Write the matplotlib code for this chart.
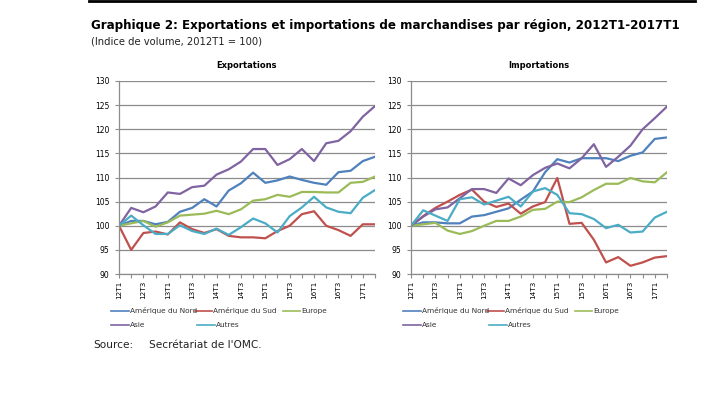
import numpy as np
import matplotlib.pyplot as plt
from matplotlib.lines import Line2D

quarters = ['12T1', '12T2', '12T3', '12T4', '13T1', '13T2', '13T3', '13T4',
            '14T1', '14T2', '14T3', '14T4', '15T1', '15T2', '15T3', '15T4',
            '16T1', '16T2', '16T3', '16T4', '17T1', '17T2']

regions = ['Amérique du Nord', 'Amérique du Sud', 'Europe', 'Asie', 'Autres']
colors = ['#4F81BD', '#C0504D', '#9BBB59', '#8064A2', '#4BACC6']

# Exportations
exp_nord = [100, 101.0, 101.0, 100.3, 100.8, 102.9, 103.7, 105.5, 104.0, 107.3, 108.8,
            111.0, 108.9, 109.4, 110.2, 109.5, 108.9, 108.5, 111.1, 111.4, 113.4, 114.3]
exp_sud = [100, 95.0, 98.5, 98.8, 98.2, 100.7, 99.3, 98.5, 99.3, 97.9, 97.6,
           97.6, 97.4, 98.9, 100.0, 102.4, 103.0, 100.0, 99.1, 97.9, 100.3, 100.3]
exp_europe = [100, 100.5, 101.0, 99.8, 100.7, 102.1, 102.3, 102.5, 103.1, 102.4, 103.4,
              105.2, 105.5, 106.4, 106.0, 107.0, 107.0, 106.9, 106.9, 108.9, 109.1, 110.2]
exp_asie = [100, 103.7, 102.8, 104.0, 106.9, 106.6, 108.0, 108.3, 110.6, 111.7, 113.3,
            115.9, 115.9, 112.6, 113.8, 115.9, 113.4, 117.1, 117.6, 119.6, 122.6, 124.8]
exp_autres = [100, 102.1, 100.1, 98.3, 98.3, 100.1, 98.9, 98.3, 99.4, 98.1, 99.7,
              101.5, 100.5, 98.6, 102.0, 103.8, 106.0, 103.8, 102.9, 102.6, 105.8, 107.4]

# Importations
imp_nord = [100, 100.7, 100.7, 100.5, 100.5, 101.9, 102.2, 102.9, 103.6, 105.4, 107.1,
            111.1, 113.8, 113.1, 114.0, 114.0, 114.0, 113.4, 114.5, 115.2, 118.0, 118.3]
imp_sud = [100, 102.0, 103.7, 105.0, 106.4, 107.5, 105.0, 103.9, 104.6, 102.5, 104.0,
           104.9, 109.9, 100.4, 100.6, 97.1, 92.4, 93.5, 91.7, 92.4, 93.4, 93.7]
imp_europe = [100, 100.3, 100.6, 99.0, 98.3, 98.9, 100.0, 101.0, 101.0, 101.9, 103.3,
              103.5, 105.0, 104.9, 105.9, 107.4, 108.7, 108.7, 109.9, 109.2, 109.0, 111.1]
imp_asie = [100, 101.9, 103.4, 103.8, 105.7, 107.6, 107.6, 106.8, 109.8, 108.4, 110.5,
            112.0, 112.9, 111.9, 114.0, 116.9, 112.2, 114.3, 116.6, 120.0, 122.3, 124.7]
imp_autres = [100, 103.2, 102.1, 101.0, 105.5, 105.9, 104.4, 105.2, 106.0, 104.0, 107.1,
              107.8, 106.4, 102.6, 102.4, 101.4, 99.5, 100.2, 98.6, 98.8, 101.7, 102.9]

exports = [exp_nord, exp_sud, exp_europe, exp_asie, exp_autres]
imports = [imp_nord, imp_sud, imp_europe, imp_asie, imp_autres]

W, H = 709, 407
fig = plt.figure(figsize=(W / 100, H / 100), dpi=100)
plt.rcParams['font.family'] = 'DejaVu Sans'

grid_col = '#8c8c8c'


def panel(left_px, title, series):
    ax = fig.add_axes([left_px / W, 1 - 274 / H, 256 / W, 193 / H])
    x = np.arange(len(quarters))
    for vals, c in zip(series, colors):
        ax.plot(x, vals, color=c, lw=1.6, solid_joinstyle='round')
    ax.set_xlim(0, len(quarters) - 1)
    ax.set_ylim(90, 130)
    ax.set_yticks(np.arange(90, 131, 5))
    ax.set_xticks(x)
    ax.set_xticklabels([q if i % 2 == 0 else '' for i, q in enumerate(quarters)],
                       rotation=90, fontsize=5.2)
    ax.tick_params(axis='y', labelsize=5.5, length=3, color=grid_col, width=0.8, pad=4)
    ax.tick_params(axis='x', length=3, color=grid_col, width=0.8, pad=2)
    ax.grid(axis='y', color=grid_col, lw=0.9)
    ax.set_axisbelow(True)
    for s in ['top', 'right']:
        ax.spines[s].set_visible(False)
    for s in ['left', 'bottom']:
        ax.spines[s].set_color(grid_col)
        ax.spines[s].set_linewidth(0.9)
    ax.set_title(title, fontsize=6, fontweight='bold', pad=9)

    # legend drawn in two rows below the axis
    def entry(dx0, dx1, y, label, c):
        fig.add_artist(Line2D([(left_px + dx0) / W, (left_px + dx1) / W],
                              [1 - y / H, 1 - y / H], color=c, lw=1.2))
        fig.text((left_px + dx1 + 1) / W, 1 - y / H, label, fontsize=5.3,
                 va='center', ha='left', color='#333333')
    entry(-8, 10, 311, regions[0], colors[0])
    entry(76, 93, 311, regions[1], colors[1])
    entry(164, 181, 311, regions[2], colors[2])
    entry(-8, 10, 325, regions[3], colors[3])
    entry(78, 96, 325, regions[4], colors[4])
    return ax


panel(119, 'Exportations', exports)
panel(411, 'Importations', imports)

fig.add_artist(Line2D([89 / W, 695 / W], [1 - 1 / H, 1 - 1 / H], color='black', lw=2))
fig.text(91 / W, 1 - 25 / H,
         'Graphique 2: Exportations et importations de marchandises par région, 2012T1-2017T1',
         fontsize=8.6, fontweight='bold', va='center', ha='left')
fig.text(91 / W, 1 - 41 / H, '(Indice de volume, 2012T1 = 100)',
         fontsize=7.2, va='center', ha='left', color='#222222')
fig.text(93 / W, 1 - 345 / H, 'Source:', fontsize=7.6, va='center', ha='left', color='#222222')
fig.text(149 / W, 1 - 345 / H, "Secrétariat de l'OMC.", fontsize=7.6, va='center',
         ha='left', color='#222222')

fig.savefig('out.png', dpi=100)
